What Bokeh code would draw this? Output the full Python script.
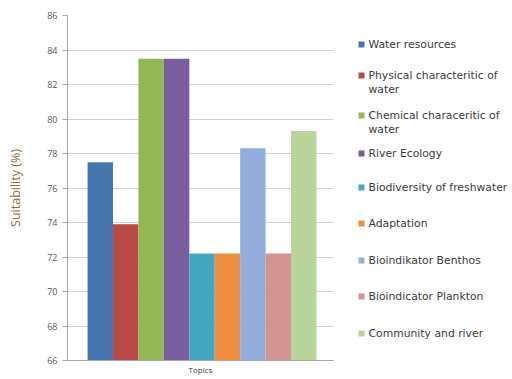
from bokeh.plotting import figure
from bokeh.layouts import row
from bokeh.models import Range1d, FixedTicker, ColumnDataSource
from bokeh.core.properties import value
from bokeh.embed import file_html
from bokeh.resources import INLINE

topics = ["Water resources", "Physical characteritic of\nwater", "Chemical characeritic of\nwater",
          "River Ecology", "Biodiversity of freshwater", "Adaptation", "Bioindikator Benthos",
          "Bioindicator Plankton", "Community and river"]
suitability = [77.5, 73.9, 83.5, 83.5, 72.2, 72.2, 78.3, 72.2, 79.3]
colors = ["#4775AE", "#B94A47", "#94B755", "#7A5D9C", "#45A6C0", "#EE8E3F", "#93AEDA", "#D49493", "#B9D59C"]
y_ticks = [66, 68, 70, 72, 74, 76, 78, 80, 82, 84, 86]

FONT = "Open Sans"
LFONT = "DejaVu Sans"

xs = list(range(1, len(topics) + 1))
src = ColumnDataSource(dict(x=xs, top=suitability, color=colors, label=topics))

p = figure(frame_width=266, frame_height=345, min_border_left=67, min_border_right=2,
           min_border_top=15, min_border_bottom=19,
           x_range=Range1d(-0.29, 10.17), y_range=Range1d(66, 86),
           output_backend="svg", toolbar_location=None)
p.outline_line_color = None
p.vbar(x="x", top="top", bottom=66, width=1.0, fill_color="color", line_color=None, source=src)

p.yaxis.ticker = FixedTicker(ticks=y_ticks)
p.yaxis.axis_label = "Suitability (%)"
p.yaxis.axis_label_text_font = FONT
p.yaxis.axis_label_text_font_style = "normal"
p.yaxis.axis_label_text_font_size = "12.5px"
p.yaxis.axis_label_text_color = "#8c6d3b"
p.yaxis.axis_label_standoff = 20
p.yaxis.major_label_text_font = FONT
p.yaxis.major_label_text_font_size = "9px"
p.yaxis.major_label_text_color = "#595959"
p.yaxis.axis_line_color = "#a6a6a6"
p.yaxis.major_tick_line_color = "#a6a6a6"
p.yaxis.major_tick_out = 5
p.yaxis.major_tick_in = 0
p.yaxis.minor_tick_line_color = None

p.xaxis.ticker = FixedTicker(ticks=[])
p.xaxis.axis_label = "Topics"
p.xaxis.axis_label_text_font = FONT
p.xaxis.axis_label_text_font_style = "normal"
p.xaxis.axis_label_text_font_size = "8px"
p.xaxis.axis_label_text_color = "#404040"
p.xaxis.axis_label_standoff = 3
p.xaxis.axis_line_color = "#a6a6a6"
p.xaxis.major_label_text_font_size = "0px"

p.xgrid.grid_line_color = None
p.ygrid.grid_line_color = "#cfcfcf"
p.ygrid.ticker = FixedTicker(ticks=y_ticks)

# legend panel (coordinates in screen pixels of the page)
LEGEND_Y = [44, 75, 115, 153, 187, 223, 260, 296, 333]
lg = figure(frame_width=177, frame_height=345, min_border_left=0, min_border_right=0,
            min_border_top=15, min_border_bottom=19,
            x_range=Range1d(0, 177), y_range=Range1d(360, 15),
            output_backend="svg", toolbar_location=None)
lg.outline_line_color = None
lg.axis.visible = False
lg.grid.visible = False
lsrc = ColumnDataSource(dict(y=LEGEND_Y, ty=[v - 6.5 for v in LEGEND_Y], color=colors, label=topics))
lg.rect(x=26, y="y", width=6, height=6, fill_color="color", line_color=None, source=lsrc)
lg.text(x=33, y="ty", text="label", text_font=value(LFONT), text_font_size="10.8px",
        text_color="#3a3a3a", text_baseline="top", text_align="left", text_line_height=1.1,
        source=lsrc)

layout = row(p, lg, spacing=0)
open("out.html", "w").write(file_html(layout, INLINE))
